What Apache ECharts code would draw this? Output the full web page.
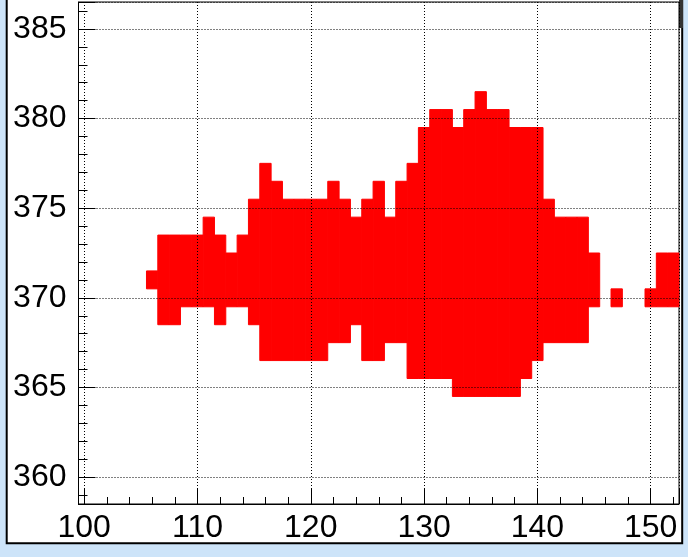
<!DOCTYPE html>
<html>
<head>
<meta charset="utf-8">
<script src="https://cdn.jsdelivr.net/npm/echarts@6/dist/echarts.min.js"></script>
<style>
html,body{margin:0;padding:0;background:#cde4f9;}
#chart{width:688px;height:557px;}
</style>
</head>
<body>
<div id="chart"></div>
<script>
// Histogram columns (x bin centres) and filled y-bin range per column
const xBins = [106,107,108,109,110,111,112,113,114,115,116,117,118,119,120,121,122,123,124,125,126,127,128,129,130,131,132,133,134,135,136,137,138,139,140,141,142,143,144,145,147,150,151,152];
const yLow  = [371,369,369,370,370,370,369,370,370,369,367,367,367,367,367,367,368,368,369,367,367,368,368,366,366,366,366,365,365,365,365,365,365,366,367,368,368,368,368,370,370,370,370,370];
const yHigh = [371,373,373,373,373,374,373,372,373,375,377,376,375,375,375,375,376,375,374,375,376,374,376,377,379,380,380,379,380,381,380,380,379,379,379,375,374,374,374,372,370,370,372,372];
const xRange = [99.5, 152.5];
const yRange = [358.5, 386.5];
const binW = 1;

const data = xBins.map((x, i) => [x, yLow[i], yHigh[i]]);

const chart = echarts.init(document.getElementById('chart'), null, {renderer: 'canvas'});
const font = 'Liberation Sans, Arial, Helvetica, sans-serif';

chart.setOption({
  backgroundColor: '#cde4f9',
  animation: false,
  graphic: [
    {type: 'rect', z: -1, shape: {x: 6.7, y: -10, width: 675.5, height: 553.3},
     style: {fill: '#ffffff', stroke: '#000', lineWidth: 2}},
    {type: 'rect', z: -1, shape: {x: 679, y: 0, width: 4, height: 28},
     style: {fill: '#333'}}
  ],
  grid: {left: 78.5, right: 9, top: 2, bottom: 53, show: true, borderColor: '#000', borderWidth: 1, backgroundColor: 'transparent'},
  xAxis: {
    type: 'value', min: xRange[0], max: xRange[1], minInterval: 10, maxInterval: 10, z: 5,
    axisLine: {show: true, onZero: false, lineStyle: {color: '#000', width: 1}},
    axisTick: {show: true, inside: true, length: 15, lineStyle: {color: '#000', width: 1}},
    minorTick: {show: true, splitNumber: 5, length: 7, lineStyle: {color: '#000', width: 1}},
    axisLabel: {showMinLabel: false, showMaxLabel: false, fontSize: 32, color: '#000', fontFamily: font, margin: 8},
    splitLine: {show: true, lineStyle: {type: [1, 2], color: '#000', width: 1}}
  },
  yAxis: {
    type: 'value', min: yRange[0], max: yRange[1], minInterval: 5, maxInterval: 5, z: 5,
    axisLine: {show: true, onZero: false, lineStyle: {color: '#000', width: 1}},
    axisTick: {show: true, inside: true, length: 17, lineStyle: {color: '#000', width: 1}},
    minorTick: {show: true, splitNumber: 5, length: 9, lineStyle: {color: '#000', width: 1}},
    axisLabel: {showMinLabel: false, showMaxLabel: false, fontSize: 32, color: '#000', fontFamily: font, margin: 12},
    splitLine: {show: true, lineStyle: {type: [1, 2], color: '#000', width: 1}}
  },
  series: [{
    type: 'custom',
    z: 3,
    clip: true,
    encode: {x: 0, y: [1, 2]},
    data: data,
    renderItem: function (params, api) {
      const x = api.value(0), lo = api.value(1), hi = api.value(2);
      const p1 = api.coord([x - binW / 2, hi + binW / 2]);
      const p2 = api.coord([x + binW / 2, lo - binW / 2]);
      return {
        type: 'rect',
        shape: {x: p1[0], y: p1[1], width: p2[0] - p1[0], height: p2[1] - p1[1]},
        style: {fill: '#ff0000', stroke: '#ff0000', lineWidth: 1}
      };
    }
  }]
});
</script>
</body>
</html>
